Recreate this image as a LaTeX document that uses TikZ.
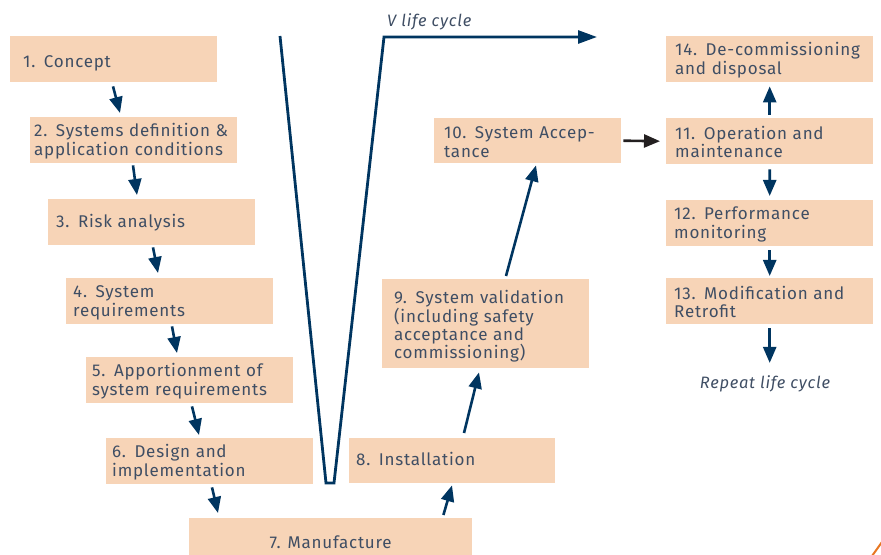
\documentclass[tikz,border=0pt]{standalone}
\usepackage{fontspec}
\setmainfont{Fira Sans}[LetterSpace=4.5]
\usetikzlibrary{arrows.meta,calc}
\definecolor{peach}{HTML}{F7D4B7}
\definecolor{navy}{HTML}{003560}
\definecolor{textc}{HTML}{3F4E64}
\definecolor{blackarr}{HTML}{231F20}
\definecolor{logoorange}{HTML}{E87722}
\newcommand\firstln[2][15bp]{\mbox{\rule{0pt}{#1}#2}}
\begin{document}
\begin{tikzpicture}[x=1bp,y=-1bp,
  stage/.style={fill=peach, text=textc, anchor=north west, align=left, inner ysep=0pt,
    font=\fontsize{17bp}{18.3bp}\selectfont},
  arr/.style={draw=navy, line width=2.6bp, -{Triangle[length=16bp,width=13bp]}},
  blackarrow/.style={draw=blackarr, line width=2.6bp, -{Triangle[length=16bp,width=13bp]}},
  vline/.style={draw=navy, line width=2.8bp, miter limit=20, -{Triangle[length=19bp,width=13bp]}},
  note/.style={text=textc, inner sep=0pt, font=\fontsize{16.5bp}{18.3bp}\selectfont\itshape}
]
\useasboundingbox (0,0) rectangle (881,555);
\clip (0,0) rectangle (881,555);

% left branch
\node[stage, text width=181bp, inner xsep=13bp, minimum height=46bp, text height=16bp, text depth=0bp] (b1) at (10,36) {\mbox{1. Concept}};
\node[stage, text width=199bp, inner xsep=4bp, minimum height=46bp] (b2) at (30,117) {\firstln{2. Systems definition \&}\\\mbox{application conditions}};
\node[stage, text width=191bp, inner xsep=8bp, minimum height=46bp] (b3) at (48,199) {\mbox{3. Risk analysis}};
\node[stage, text width=193bp, inner xsep=7bp, minimum height=46bp] (b4) at (66,278) {\firstln{4. System}\\\mbox{requirements}};
\node[stage, text width=195bp, inner xsep=6bp, minimum height=46bp] (b5) at (86,357) {\firstln{5. Apportionment of}\\\mbox{system requirements}};
\node[stage, text width=195bp, inner xsep=6bp, minimum height=46bp] (b6) at (106,438) {\firstln{6. Design and}\\\mbox{implementation}};
\node[stage, align=center, minimum width=283bp, minimum height=48bp] (b7) at (189,518) {7. Manufacture};

% right branch
\node[stage, text width=192bp, inner xsep=7bp, minimum height=45bp, text depth=4bp] (b8) at (349,438) {\mbox{8. Installation}};
\node[stage, text width=183bp, inner xsep=12bp, minimum height=89bp] (b9) at (382,279) {\firstln[19bp]{9. System validation}\\\mbox{(including safety}\\\mbox{acceptance and}\\\mbox{commissioning)}};
\node[stage, text width=167bp, inner xsep=10bp, minimum height=45bp] (b10) at (434,118) {\firstln{10. System Accep-}\\\mbox{tance}};

% life cycle column
\node[stage, text width=189bp, inner xsep=9bp, minimum height=46bp] (b14) at (666,36) {\firstln{14. De-commissioning}\\\mbox{and disposal}};
\node[stage, text width=189bp, inner xsep=9bp, minimum height=46bp] (b11) at (666,118) {\firstln{11. Operation and}\\\mbox{maintenance}};
\node[stage, text width=191bp, inner xsep=8bp, minimum height=46bp] (b12) at (666,200) {\firstln{12. Performance}\\\mbox{monitoring}};
\node[stage, text width=191bp, inner xsep=8bp, minimum height=46bp] (b13) at (666,278) {\firstln{13. Modification and}\\\mbox{Retrofit}};
\node[note, anchor=base] (rep) at (765,388) {Repeat life cycle};

% V line
\node[note, anchor=base west] (vlabel) at (387,27) {V life cycle};
\draw[vline] (280,36) -- (326,483) -- (334,483) -- (384,37) -- (597,37);

% connectors
\draw[arr] ($(b1.south west)+(103,4)$) -- ($(b2.north west)+(90,-4)$);
\draw[arr] ($(b2.south west)+(103,2)$) -- ($(b3.north west)+(89,-4)$);
\draw[arr] ($(b3.south west)+(105,2)$) -- ($(b4.north west)+(92,-5)$);
\draw[arr] ($(b4.south west)+(106,2)$) -- ($(b5.north west)+(91,-4)$);
\draw[arr] ($(b5.south west)+(106,3)$) -- ($(b6.north west)+(93,-3)$);
\draw[arr] ($(b6.south west)+(106,3)$) -- ($(b7.north west)+(29,-5)$);
\draw[arr] ($(b7.north east)+(-29,-3)$) -- ($(b8.south west)+(103,2)$);
\draw[arr] ($(b8.north west)+(115,-5)$) -- ($(b9.south west)+(97,4)$);
\draw[arr] ($(b9.north west)+(124,-3)$) -- ($(b10.south west)+(102,2)$);
\draw[blackarrow] ($(b10.east)+(2,0)$) -- ($(b11.west)+(-6,0)$);
\draw[arr] ($(b11.north)+(0,-3)$) -- ($(b14.south)+(0,4)$);
\draw[arr] ($(b11.south)+(0,5)$) -- ($(b12.north)+(0,-4)$);
\draw[arr] ($(b12.south)+(0,4)$) -- ($(b13.north)+(0,-2)$);
\draw[arr] ($(b13.south)+(0,4)$) -- ($(b13.south |- rep.north)+(0,-12)$);

% corner mark
\draw[logoorange, line width=2bp] (872,556) -- (882,542);
\end{tikzpicture}
\end{document}
